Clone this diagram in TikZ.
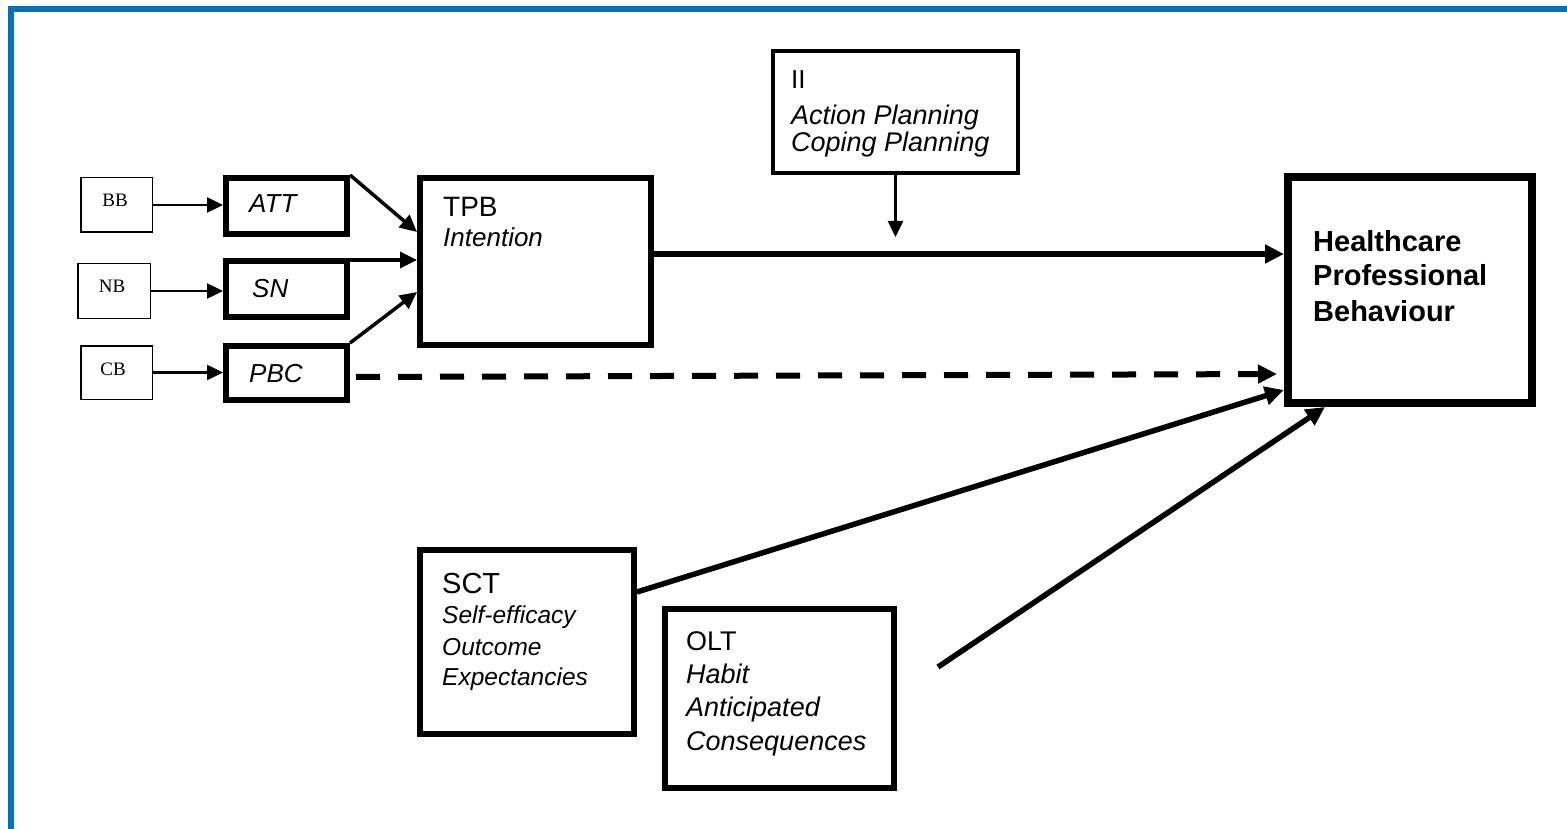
\documentclass[tikz,border=0pt]{standalone}
\usepackage{fontspec}
\setmainfont{Liberation Sans}
\newfontfamily\tnr{Liberation Serif}
\usetikzlibrary{arrows.meta,calc}
\definecolor{frameblue}{RGB}{0,112,192}
\begin{document}
\begin{tikzpicture}[x=1pt,y=-1pt,
  thinbox/.style={draw, line width=1.5pt, inner sep=0pt},
  thickbox/.style={draw, line width=6pt, inner sep=0pt},
  lbl/.style={inner sep=0pt, anchor=base west},
  serifl/.style={inner sep=0pt, anchor=base, font=\tnr\fontsize{19pt}{21pt}\selectfont},
  hdr/.style={lbl, font=\fontsize{28pt}{30pt}\selectfont},
  itl/.style={lbl, font=\fontsize{26pt}{28pt}\selectfont\itshape},
  thinarrow/.style={line width=2.5pt, -{Triangle[length=16pt,width=15pt]}},
  midarrow/.style={line width=3.5pt, -{Triangle[length=17pt,width=16pt]}},
  thickarrow/.style={line width=5.5pt, -{Triangle[length=19pt,width=18pt]}},
]
\useasboundingbox (0,0) rectangle (1567,829);
\draw[frameblue, line width=6pt] (11,829) -- (11,9) -- (1567,9);

% small belief boxes
\node[thinbox, minimum width=71.5pt, minimum height=54.5pt] (bb) at (116.5,205) {};
\node[thinbox, minimum width=72.5pt, minimum height=54.5pt] (nb) at (114,291) {};
\node[thinbox, minimum width=71.5pt, minimum height=53.5pt] (cb) at (116.5,372.5) {};
\node[serifl] (bbt) at (115,207) {BB};
\node[serifl] (nbt) at (112,292) {NB};
\node[serifl] (cbt) at (113,375) {CB};

% TPB constructs
\node[thickbox, minimum width=121pt, minimum height=56pt] (att) at (286.5,206) {};
\node[thickbox, minimum width=121pt, minimum height=56pt] (sn) at (286.5,289) {};
\node[thickbox, minimum width=121pt, minimum height=54pt] (pbc) at (286.5,373) {};
\node[itl] (attt) at (249,213) {ATT};
\node[itl] (snt) at (252,298) {SN};
\node[itl] (pbct) at (249,382) {PBC};

% TPB box
\node[thickbox, minimum width=231pt, minimum height=167pt] (tpb) at (535.5,261.5) {};
\node[hdr] (tpbt1) at (443,217) {TPB};
\node[itl] (tpbt2) at (443,247) {Intention};

% II box
\node[draw, line width=4pt, inner sep=0pt, minimum width=245pt, minimum height=122pt] (ii) at (895.5,112) {};
\node[lbl, font=\fontsize{26pt}{28pt}\selectfont] (iit1) at (791,89) {II};
\node[itl, font=\fontsize{27pt}{29pt}\selectfont\itshape] (iit2) at (791,125) {Action Planning};
\node[itl, font=\fontsize{27pt}{29pt}\selectfont\itshape] (iit3) at (791,152) {Coping Planning};

% Behaviour box
\node[draw, line width=8pt, inner sep=0pt, minimum width=244pt, minimum height=226pt] (hpb) at (1410,290) {};
\node[lbl, font=\fontsize{29pt}{31pt}\selectfont\bfseries] (hpbt1) at (1313,252) {Healthcare};
\node[lbl, font=\fontsize{29pt}{31pt}\selectfont\bfseries] (hpbt2) at (1313,286) {Professional};
\node[lbl, font=\fontsize{29pt}{31pt}\selectfont\bfseries] (hpbt3) at (1313,321) {Behaviour};

% SCT box
\node[thickbox, minimum width=214pt, minimum height=184pt] (sct) at (527,642) {};
\node[lbl, font=\fontsize{29pt}{31pt}\selectfont] (sctt1) at (442,593) {SCT};
\node[itl, font=\fontsize{24.5pt}{26pt}\selectfont\itshape] (sctt2) at (442,623) {Self-efficacy};
\node[itl, font=\fontsize{24.5pt}{26pt}\selectfont\itshape] (sctt3) at (442,655) {Outcome};
\node[itl, font=\fontsize{24.5pt}{26pt}\selectfont\itshape] (sctt4) at (442,685) {Expectancies};

% OLT box
\node[thickbox, minimum width=229pt, minimum height=179pt] (olt) at (779.5,698.5) {};
\node[lbl, font=\fontsize{27pt}{29pt}\selectfont] (oltt1) at (686,650) {OLT};
\node[itl, font=\fontsize{27pt}{29pt}\selectfont\itshape] (oltt2) at (686,683) {Habit};
\node[itl, font=\fontsize{27pt}{29pt}\selectfont\itshape] (oltt3) at (686,716) {Anticipated};
\node[itl, font=\fontsize{27pt}{29pt}\selectfont\itshape] (oltt4) at (686,750) {Consequences};

% free ends
\coordinate (iiend) at (895.5,237);
\coordinate (oltout) at (938,667);
\coordinate (tpbin1) at (417,232);
\coordinate (tpbin2) at (417,260);
\coordinate (tpbin3) at (417,292);

% connectors
\draw[thinarrow] (bb.east) -- (bb.east -| att.west);
\draw[thinarrow] (nb.east) -- (nb.east -| sn.west);
\draw[thinarrow] (cb.east) -- (cb.east -| pbc.west);
\draw[midarrow] (att.north east) -- (tpbin1);
\draw[midarrow] ([yshift=-2pt]sn.north east) -- (tpbin2);
\draw[midarrow] (pbc.north east) -- (tpbin3);
\draw[thickarrow] ([yshift=7.5pt]tpb.east) -- ([yshift=7.5pt]tpb.east -| hpb.west);
\draw[thinarrow] (ii.south) -- (iiend);
\draw[thickarrow, line width=6pt, dash pattern=on 24pt off 18pt, shorten <=6pt, shorten >=7pt] ([yshift=-4pt]pbc.east) -- ([yshift=-1pt]pbc.east -| hpb.west);
\draw[thickarrow] ([yshift=50pt]sct.east) -- ([yshift=-100pt]hpb.west);
\draw[thickarrow] (oltout) -- ([xshift=41pt]hpb.south west);
\end{tikzpicture}
\end{document}
